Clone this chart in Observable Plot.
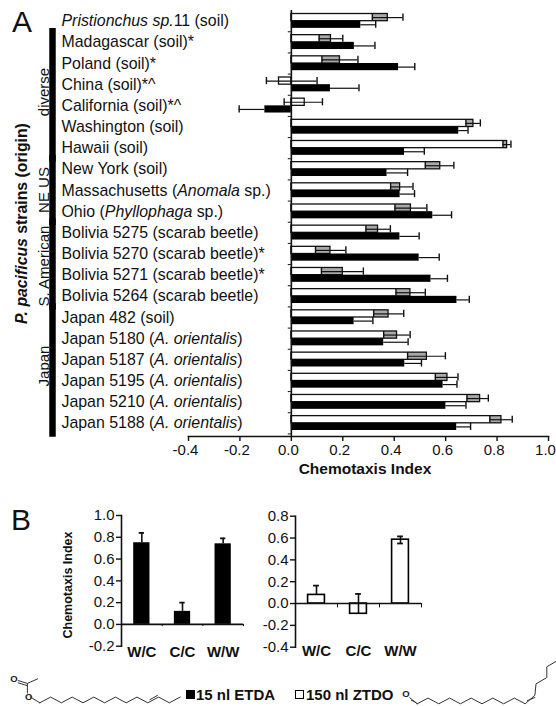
<!DOCTYPE html>
<html><head><meta charset="utf-8">
<script src="https://cdn.jsdelivr.net/npm/d3@7"></script>
<script src="https://cdn.jsdelivr.net/npm/@observablehq/plot@0.6"></script>
<style>
html,body{margin:0;padding:0;background:#fff}
#page{position:relative;width:556px;height:706px;overflow:hidden;font-family:"Liberation Sans",Arial,sans-serif;color:#111}
#page svg{position:absolute;overflow:visible;background:transparent}
.abs{position:absolute;white-space:nowrap;line-height:1}
.sw{position:absolute;width:7px;height:7px;border:1px solid #000}
</style></head><body><div id="page"></div>
<script>
const strains=["<i>Pristionchus sp.</i>11 (soil)","Madagascar (soil)*","Poland (soil)*","China (soil)*^","California (soil)*^","Washington (soil)","Hawaii (soil)","New York (soil)","Massachusetts (<i>Anomala</i> sp.)","Ohio (<i>Phyllophaga</i> sp.)","Bolivia 5275 (scarab beetle)","Bolivia 5270 (scarab beetle)*","Bolivia 5271 (scarab beetle)*","Bolivia 5264 (scarab beetle)","Japan 482 (soil)","Japan 5180 (<i>A. orientalis</i>)","Japan 5187 (<i>A. orientalis</i>)","Japan 5195 (<i>A. orientalis</i>)","Japan 5210 (<i>A. orientalis</i>)","Japan 5188 (<i>A. orientalis</i>)"];
const ztdoMean=[.375,.154,.189,-.048,.052,.708,.839,.579,.423,.465,.337,.152,.2,.463,.378,.411,.527,.607,.734,.817];
const ztdoLow=[.315,.108,.119,-.097,-.028,.679,.823,.521,.386,.403,.29,.094,.117,.407,.32,.359,.452,.56,.683,.772];
const ztdoHigh=[.434,.2,.259,.1,.121,.735,.854,.632,.473,.527,.385,.212,.28,.521,.437,.462,.599,.648,.766,.859];
const etdaMean=[.27,.245,.417,.152,-.103,.651,.44,.372,.423,.55,.422,.497,.543,.644,.244,.359,.441,.59,.601,.643];
const etdaEnd=[.328,.325,.48,.263,-.203,.687,.517,.452,.479,.623,.497,.575,.607,.692,.317,.454,.506,.644,.679,.697];
const groupNames=["diverse","NE US","S. American","Japan"];
const groupFirst=[1,7,10,14];
const groupLast=[6,9,13,19];
const genotypes=["W/C","C/C","W/W"];
const etdaB=[.75,.12,.74];
const etdaBHigh=[.84,.2,.79];
const ztdoB=[.079,-.094,.585];
const ztdoBHigh=[.164,.088,.615];
const ztdoBLow=[.079,-.094,.55];
const acetateChainX=[0,1,2,3,4,5,6,7,8,9,10,11,12,13];
const acetateChainY=[0,1,0,1,0,1,0,1,0,1,0,1,0,1];
const aldehydeChainX=[0,1,2,3,4,5,6,7,8,9,10,10.9,11,12,12,13];
const aldehydeChainY=[0,1,0,1,0,1,0,1,0,1,0,1.5,3.5,4.6,6.5,7.6];

const FONT='"Liberation Sans",Arial,sans-serif';
const page=document.getElementById("page");
function add(svg,left,top){
  svg.style.left=left+"px";svg.style.top=top+"px";
  svg.querySelectorAll("text").forEach(t=>{
    const s=t.textContent;
    if(!s.includes("<i>"))return;
    t.textContent="";
    s.split(/(<i>.*?<\/i>)/).filter(Boolean).forEach(p=>{
      const sp=document.createElementNS("http://www.w3.org/2000/svg","tspan");
      const it=p.startsWith("<i>");
      sp.textContent=p.replace(/<\/?i>/g,"");
      if(it)sp.setAttribute("font-style","italic");
      t.appendChild(sp);
    });
  });
  page.appendChild(svg);
}
const rows=strains.map((s,i)=>({s,z:s+"|Z",e:s+"|E",zm:ztdoMean[i],zl:ztdoLow[i],zh:ztdoHigh[i],em:etdaMean[i],ee:etdaEnd[i]}));
const yDomain=strains.flatMap(s=>[s+"|Z",s+"|E"]);
const groups=groupNames.map((g,i)=>({g,a:strains[groupFirst[i]]+"|Z",b:strains[groupLast[i]]+"|E"}));
const INS=3.4, DY=1.7;
const tickList=[-.4,-.2,0,.2,.4,.6,.8,1];
add(Plot.plot({
  width:556,height:490,marginLeft:188,marginRight:8,marginTop:10,marginBottom:54,
  style:{fontFamily:FONT,fontSize:"15px",background:"transparent",color:"#111"},
  x:{domain:[-.4,1],axis:null},
  y:{type:"band",domain:yDomain,range:[10.1,433.4],padding:0,round:false,axis:null},
  marks:[
    Plot.barX(rows,{x1:0,x2:"zm",y:"z",insetTop:INS,fill:"#fff"}),
    Plot.barX(rows.filter(d=>d.zl>0),{x1:"zl",x2:"zm",y:"z",insetTop:INS,fill:"#a9a9a9"}),
    Plot.barX(rows,{x1:0,x2:"zm",y:"z",insetTop:INS,fill:"none",stroke:"#111",strokeWidth:1.3}),
    Plot.ruleY(rows,{x1:"zl",x2:"zh",y:"z",dy:DY,stroke:"#111",strokeWidth:1.2}),
    Plot.tickX(rows,{x:"zh",y:"z",insetTop:INS,stroke:"#111",strokeWidth:1.4}),
    Plot.tickX(rows,{x:"zl",y:"z",insetTop:INS,stroke:"#111",strokeWidth:1.4}),
    Plot.barX(rows,{x1:0,x2:"em",y:"e",insetBottom:INS,fill:"#000"}),
    Plot.ruleY(rows,{x1:"em",x2:"ee",y:"e",dy:-DY,stroke:"#111",strokeWidth:1.2}),
    Plot.tickX(rows,{x:"ee",y:"e",insetBottom:INS,stroke:"#111",strokeWidth:1.4}),
    Plot.ruleX([0],{stroke:"#111",strokeWidth:1.6}),
    Plot.ruleY(rows,{x1:-.012,x2:0,y:"e",dy:5.3,stroke:"#111",strokeWidth:1}),
    Plot.frame({anchor:"bottom",stroke:"#111",strokeWidth:1.6}),
    Plot.axisX({anchor:"bottom",ticks:tickList,tickSize:5,text:null,label:null,strokeWidth:1.4,stroke:"#111"}),
    Plot.axisX({anchor:"bottom",ticks:tickList,tickSize:0,tickPadding:8,dx:-3,tickFormat:d=>d.toFixed(1),label:null,fontSize:15,fill:"#111"}),
    Plot.text(["Chemotaxis Index"],{frameAnchor:"bottom",dx:-3.5,dy:33,fontWeight:"bold",fontSize:15.5,lineAnchor:"middle",fill:"#111"}),
    Plot.text(rows,{text:"s",y:"e",dy:-5.3,frameAnchor:"left",dx:-127,textAnchor:"start",lineAnchor:"middle",fontSize:15.9,fill:"#111"}),
    Plot.ruleX(groups,{x:-.4,dx:-136,y1:"a",y2:"b",stroke:"#000",strokeWidth:6.5,strokeLinecap:"square"}),
    Plot.text(["<i>P. pacificus</i> strains (origin)"],{frameAnchor:"left",dx:-167,dy:0,rotate:-90,fontWeight:"bold",fontSize:15.8,lineAnchor:"middle",textAnchor:"middle",fill:"#111"})
  ]
}),0,0);

function panelB(vals,ends,lows,domain,tickVals,opts){
  const t=genotypes.map((g,i)=>({g,v:vals[i],h:ends[i],l:lows?lows[i]:vals[i]}));
  return Plot.plot({
    width:220,height:165,marginLeft:opts.ml,marginRight:opts.mr,marginTop:opts.mt,marginBottom:opts.mb,
    style:{fontFamily:FONT,fontSize:"15px",background:"transparent",color:"#111"},
    x:{type:"band",domain:genotypes,paddingInner:.6,paddingOuter:.3,round:false,axis:null},
    y:{domain,axis:null},
    marks:[
      Plot.ruleX(t,{x:"g",y1:"l",y2:"h",stroke:"#111",strokeWidth:opts.w}),
      Plot.tickY(t,{x:"g",y:"h",inset:opts.cap,stroke:"#111",strokeWidth:1.8}),
      lows?Plot.tickY(t.filter(d=>d.l!==d.v),{x:"g",y:"l",inset:opts.cap,stroke:"#111",strokeWidth:1.8}):null,
      Plot.barY(t,{x:"g",y1:0,y2:"v",fill:opts.fill,fillOpacity:opts.fill==="none"?0:1,stroke:"#000",strokeWidth:opts.sw}),
      Plot.ruleY([0],{stroke:"#111",strokeWidth:1.6}),
      Plot.ruleX(genotypes,{x:d=>d,dx:opts.step/2,y1:0,y2:domain[0]*.1,stroke:"#111",strokeWidth:1}),
      Plot.frame({anchor:"left",stroke:"#111",strokeWidth:1.6}),
      Plot.axisY({ticks:tickVals,tickSize:5,tickPadding:2,tickFormat:d=>d.toFixed(1),label:null,fontSize:15,strokeWidth:1.4,stroke:"#111",fill:"#111"}),
      Plot.text(genotypes,{x:d=>d,text:d=>d,frameAnchor:"bottom",dy:opts.ly,lineAnchor:"middle",fontWeight:"bold",fontSize:15,fill:"#111"})
    ]
  });
}
add(panelB(etdaB,etdaBHigh,null,[-.2,1],[-.2,0,.2,.4,.6,.8,1],{ml:81,mr:17,mt:10,mb:24.3,fill:"#000",sw:0,w:1.6,cap:5.5,ly:6,step:40.7}),40,505);
add(panelB(ztdoB,ztdoBHigh,ztdoBLow,[-.4,.8],[-.4,-.2,0,.2,.4,.6,.8],{ml:80,mr:14,mt:10.7,mb:23.3,fill:"none",sw:1.6,w:1.6,cap:5.5,ly:4,step:42}),215,505);

add(Plot.plot({
  width:190,height:46,margin:0,
  style:{fontFamily:FONT,background:"transparent"},
  x:{domain:[-3,14],range:[6.9,190.5],axis:null},
  y:{domain:[0,5],range:[42.3,13.8],axis:null},
  marks:[
    Plot.line(acetateChainX.map((x,i)=>[x,acetateChainY[i]]),{stroke:"#333",strokeWidth:1}),
    Plot.line([[-.9,1.05],[0,0]],{stroke:"#333",strokeWidth:1}),
    Plot.line([[-1.15,1.7],[-1.15,3.4],[-.2,4.2]],{stroke:"#333",strokeWidth:1}),
    Plot.line([[-1.15,3.4],[-2,3.9]],{stroke:"#333",strokeWidth:1}),
    Plot.line([[-1.15,3],[-2,3.5]],{stroke:"#333",strokeWidth:1}),
    Plot.line([[10.2,.55],[10.9,1.3]],{stroke:"#333",strokeWidth:1}),
    Plot.text(["O"],{x:-1.02,y:1,fontSize:9.5,fontWeight:"bold",fill:"#222"}),
    Plot.text(["O"],{x:-2.4,y:4.1,fontSize:9.5,fontWeight:"bold",fill:"#222"})
  ]
}),0,660);
add(Plot.plot({
  width:160,height:66,margin:0,
  style:{fontFamily:FONT,background:"transparent"},
  x:{domain:[-3,13],range:[-11.7,161.1],axis:null},
  y:{domain:[0,8],range:[63.3,17.7],axis:null},
  marks:[
    Plot.line(aldehydeChainX.map((x,i)=>[x,aldehydeChainY[i]]),{stroke:"#333",strokeWidth:1}),
    Plot.line([[-.68,1.06],[0,0]],{stroke:"#333",strokeWidth:1}),
    Plot.line([[-.55,.65],[-.1,.2]],{stroke:"#333",strokeWidth:1}),
    Plot.line([[10.2,.55],[10.9,1.1]],{stroke:"#333",strokeWidth:1}),
    Plot.text(["O"],{x:-1.05,y:1.65,fontSize:9.5,fontWeight:"bold",fill:"#222"})
  ]
}),396,640);

function html(cls,text,left,top,css){const d=document.createElement("div");d.className=cls;d.textContent=text;d.style.left=left+"px";d.style.top=top+"px";Object.assign(d.style,css||{});page.appendChild(d);return d;}
html("abs","A",12,7,{fontSize:"30px"});
html("abs","B",11,505,{fontSize:"30px"});
const rot="translate(-50%,-50%) rotate(-90deg)";
html("abs","Chemotaxis Index",68,584.5,{fontSize:"12.5px",fontWeight:"bold",transform:rot});
html("abs","diverse",42.5,92,{fontSize:"15px",transform:rot});
html("abs","NE US",42.5,189.5,{fontSize:"15px",transform:rot});
html("abs","S. American",42.5,266,{fontSize:"15px",transform:rot});
html("abs","Japan",42.5,366,{fontSize:"15px",transform:rot});
html("sw","",186,690,{background:"#000"});
html("sw","",295,690,{background:"#fff",borderWidth:"1.5px"});
const lg={fontSize:"15px",fontWeight:"bold"};
html("abs","15 nl ETDA",196,687,lg);
html("abs","150 nl ZTDO",306,687,lg);
</script></body></html>
